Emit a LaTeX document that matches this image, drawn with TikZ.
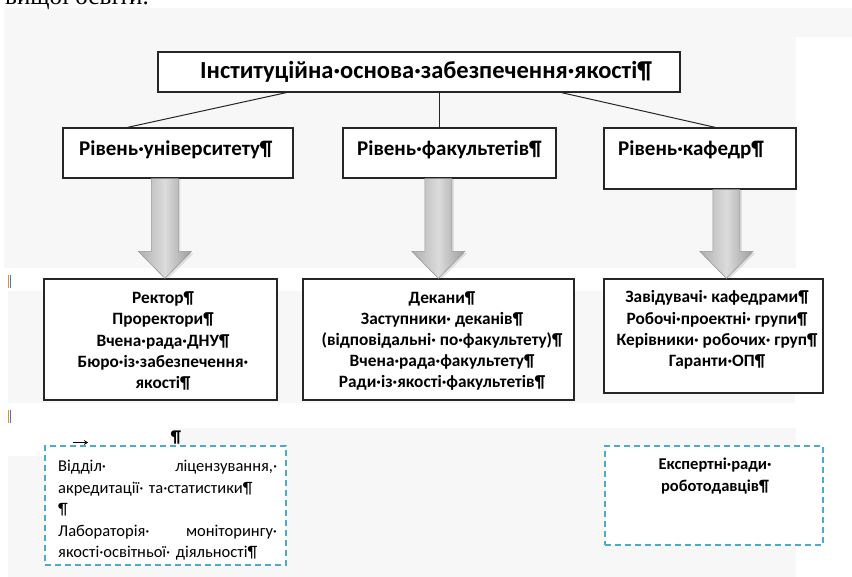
\documentclass[tikz,border=0pt]{standalone}
\usepackage{fontspec}
\setmainfont{Carlito}
\newfontfamily\seriffont{Liberation Serif}
\usetikzlibrary{calc,arrows.meta}
\definecolor{bgg}{RGB}{247,247,247}
\definecolor{dashblue}{RGB}{75,172,198}
\definecolor{cursoro}{RGB}{230,140,40}
\definecolor{cursorb}{RGB}{70,120,200}
\newcommand\blkarrow[2]{%
  \fill[black,opacity=0.10] ($(#1)+(-11.5,0)$) -- ($(#2)+(-11.5,-25)$) -- ($(#2)+(-24.5,-25)$) -- ($(#2)+(2,2)$) -- ($(#2)+(28.5,-25)$) -- ($(#2)+(15.5,-25)$) -- ($(#1)+(15.5,0)$) -- cycle;
  \shade[bigarrow] ($(#1)+(-13.5,0)$) -- ($(#2)+(-13.5,-27)$) -- ($(#2)+(-26.5,-27)$) -- (#2) -- ($(#2)+(26.5,-27)$) -- ($(#2)+(13.5,-27)$) -- ($(#1)+(13.5,0)$) -- cycle;}
\begin{document}
\begin{tikzpicture}[x=1pt,y=-1pt,
  box/.style={draw=black!85, line width=1.2pt, fill=white, inner sep=0pt},
  dbox/.style={draw=dashblue, line width=1.6pt, dash pattern=on 6pt off 4pt, fill=white, inner sep=0pt},
  ttl/.style={font=\bfseries\fontsize{24.5}{28}\selectfont, inner sep=0pt},
  lvl/.style={font=\bfseries\fontsize{21}{25}\selectfont, inner sep=0pt, anchor=west},
  lst/.style={font=\bfseries\fontsize{17.3}{21.2}\selectfont, inner sep=0pt, align=center},
  dtxt/.style={font=\fontsize{16.5}{21.5}\selectfont, inner sep=0pt},
  conn/.style={draw=black!85, line width=1pt},
  bigarrow/.style={draw=gray!80, line width=0.6pt, left color=gray!62, right color=gray!78, middle color=gray!28}
]
\clip (0,0) rectangle (852,577);
% background bands
\fill[bgg] (4,8) rectangle (852,37);
\fill[bgg] (4,37) rectangle (796,268);
\fill[bgg] (8,291) rectangle (795,403);
\fill[bgg] (8,428) rectangle (796,577);
\fill[white] (8,428) rectangle (170,456);
% cut-off text at top
\node[font=\seriffont\fontsize{25}{30}\selectfont, anchor=base west, inner sep=0pt] (prevtext) at (5,5) {вищої освіти.};
% cursor marks
\coordinate (c1a) at (8.5,275); \coordinate (c1b) at (8.5,288);
\coordinate (c2a) at (8.5,410); \coordinate (c2b) at (8.5,423);
\draw[cursoro, line width=1.6pt] (c1a) -- (c1b);
\draw[cursoro, line width=1.6pt] (c2a) -- (c2b);
\draw[cursorb, line width=0.6pt] ($(c1a)+(1.4,0)$) -- ($(c1b)+(1.4,0)$);
\draw[cursorb, line width=0.6pt] ($(c2a)+(1.4,0)$) -- ($(c2b)+(1.4,0)$);
% title
\node[box, minimum width=522, minimum height=40] (title) at (419,72) {};
\node[ttl] (titletext) at (426,72) {Інституційна·основа·забезпечення·якості¶};
% level boxes
\node[box, minimum width=230, minimum height=50] (lv1) at (178,153) {};
\node[lvl] (lv1t) at (79,150) {Рівень·університету¶};
\node[box, minimum width=213, minimum height=50] (lv2) at (449.5,153) {};
\node[lvl] (lv2t) at (357,150) {Рівень·факультетів¶};
\node[box, minimum width=192, minimum height=61] (lv3) at (700,158.5) {};
\node[lvl] (lv3t) at (618,150) {Рівень·кафедр¶};
% connectors
\draw[conn] ($(title.south west)+(129,0)$) -- ($(lv1.north west)+(65,0)$);
\draw[conn] ($(title.south west)+(282,0)$) -- ($(lv2.north west)+(97,0)$);
\draw[conn] ($(title.south west)+(404,0)$) -- ($(lv3.north west)+(112,0)$);
% lower boxes
\node[box, minimum width=233, minimum height=121] (b1) at (160.5,339.5) {};
\node[box, minimum width=271, minimum height=121] (b2) at (438.5,339.5) {};
\node[box, minimum width=219, minimum height=114] (b3) at (713.5,336) {};
\node[lst] (b1t) at (163,341) {Ректор¶\\Проректори¶\\Вчена·рада·ДНУ¶\\Бюро·із·забезпечення·\\якості¶};
\node[lst] (b2t) at (442,341) {Декани¶\\Заступники· деканів¶\\(відповідальні· по·факультету)¶\\Вчена·рада·факультету¶\\Ради·із·якості·факультетів¶};
\node[lst] (b3t) at (717,330) {Завідувачі· кафедрами¶\\Робочі·проектні· групи¶\\Керівники· робочих· груп¶\\Гаранти·ОП¶};
% block arrows
\coordinate (a1s) at ($(lv1.south west)+(102.5,0)$);
\coordinate (a1e) at ($(b1.north west)+(121.5,0)$);
\coordinate (a2s) at ($(lv2.south west)+(96,0)$);
\coordinate (a2e) at ($(b2.north west)+(136,0)$);
\coordinate (a3s) at ($(lv3.south west)+(123,0)$);
\coordinate (a3e) at ($(b3.north west)+(123,0)$);
\blkarrow{a1s}{a1e}
\blkarrow{a2s}{a2e}
\blkarrow{a3s}{a3e}
% dashed boxes
\node[dbox, minimum width=241, minimum height=119] (d1) at (165.5,505.5) {};
\node[dbox, minimum width=218, minimum height=99] (d2) at (714,495.5) {};
\node[dtxt, anchor=north west, text width=219, align=left] (d1t) at (58,460) {Відділ·\hfill ліцензування,·\\акредитації· та·статистики¶\\¶\\Лабораторія·\hfill моніторингу·\\якості·освітньої· діяльності¶};
\node[dtxt, font=\bfseries\fontsize{16.5}{21.2}\selectfont, align=center] (d2t) at (715,476) {Експертні·ради·\\роботодавців¶};
% tab mark and pilcrow above left dashed box
\coordinate (tabs) at (73,442.5);
\coordinate (tabe) at (88,442.5);
\draw[-{Stealth[length=4pt,width=5pt]}, line width=1.4pt] (tabs) -- (tabe);
\node[font=\bfseries\fontsize{17}{19}\selectfont, inner sep=0pt] (pil) at (176,438) {¶};
\end{tikzpicture}
\end{document}
